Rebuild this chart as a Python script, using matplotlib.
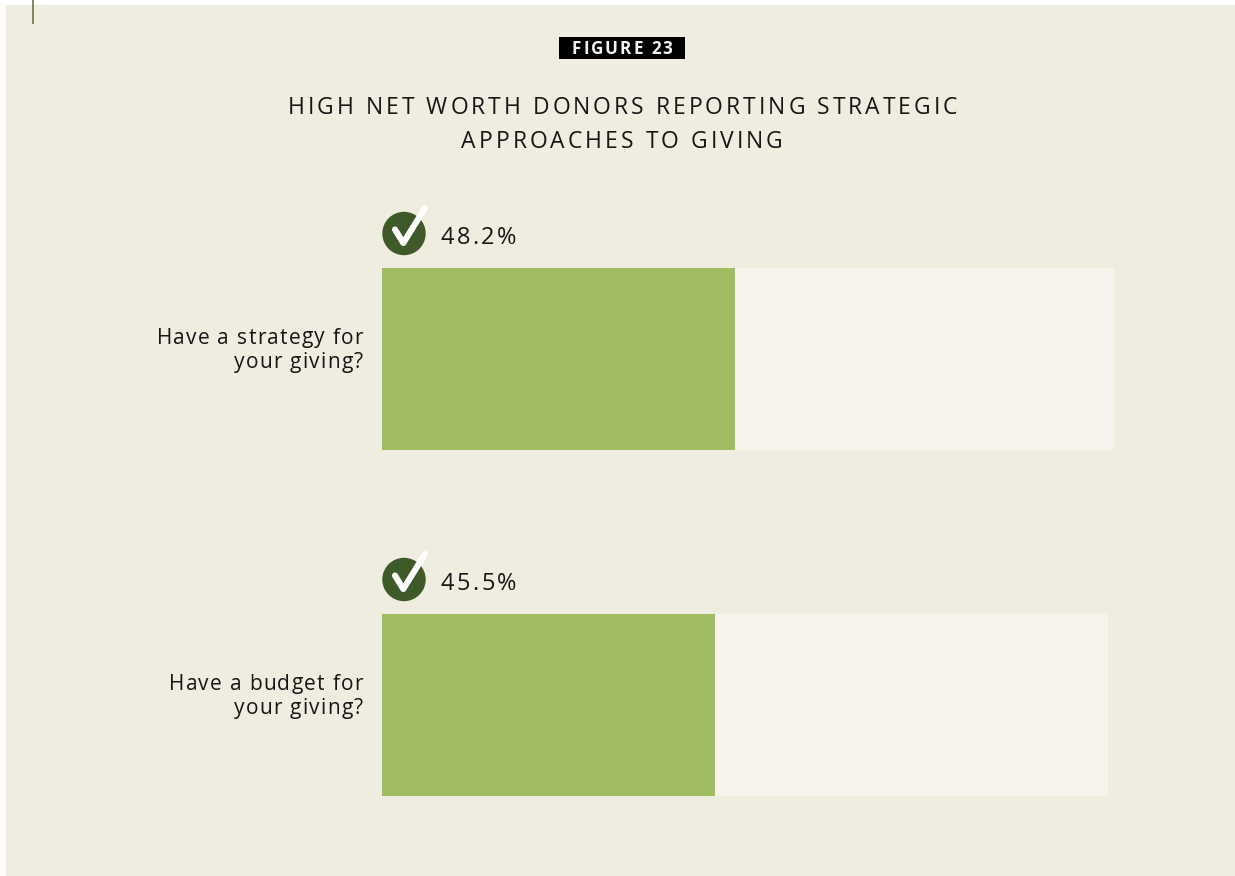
#!/usr/bin/env python3

import matplotlib
matplotlib.use("Agg")
import matplotlib.pyplot as plt
from matplotlib.patches import Circle, Rectangle

# =========================================================
# DATA
# =========================================================
QUESTIONS = [["Have a strategy for", "your giving?"], ["Have a budget for", "your giving?"]]
VALUES = [48.2, 45.5]
VALUE_LABELS = ["48.2%", "45.5%"]
TRACK_ENDS = [100.0, 99.2]
TITLE_LINES = ["HIGH NET WORTH DONORS REPORTING STRATEGIC", "APPROACHES TO GIVING"]
BADGE = "FIGURE 23"

# =========================================================
# CONFIG
# =========================================================
W, H = 1235, 876
DPI = 100
BG = "#efece0"
TRACK = "#f6f3ec"
GREEN = "#a0bc61"
DARK = "#3f5a29"
INK = "#161616"
FONT = "Open Sans"

BAR_TOPS = [268, 614]
BAR_H = 182
BAR_LEFT, BAR_RIGHT = 382, 1114

plt.rcParams["font.family"] = [FONT, "DejaVu Sans"]

fig = plt.figure(figsize=(W / DPI, H / DPI), dpi=DPI, facecolor="white")

# pixel overlay for panel, badge, icons and text
px = fig.add_axes([0, 0, 1, 1], zorder=0)
px.set_xlim(0, W)
px.set_ylim(H, 0)
px.axis("off")


def spaced_text(x, y, s, size, spacing, ha="left", color=INK, weight="normal"):
    # matplotlib has no letter spacing, so place the glyphs one at a time
    rend = fig.canvas.get_renderer()

    def adv(sub):
        t = px.text(0, 0, sub, fontsize=size, fontweight=weight)
        w = t.get_window_extent(rend).width
        t.remove()
        return w

    pair = adv("H" + s + "H") - adv("HH")
    total = pair + spacing * (len(s) - 1)
    x0 = x - total if ha == "right" else x - total / 2 if ha == "center" else x
    for i, ch in enumerate(s):
        if ch == " ":
            continue
        off = adv("H" + s[:i] + "H") - adv("HH") + spacing * i
        px.text(x0 + off, y, ch, fontsize=size, color=color, fontweight=weight,
                ha="left", va="baseline")


# panel
px.add_patch(Rectangle((6, 5), W - 6, H - 5, fc=BG, ec="none"))

# crop mark top left
px.plot([33, 33], [0, 24], color="#5f6b35", lw=1.1, solid_capstyle="butt", zorder=3)

# badge
px.add_patch(Rectangle((559, 37), 126, 22, fc="black", ec="none"))
spaced_text(622, 54.5, BADGE, 12.3, 1.9, ha="center", color="#f2f2f2", weight="bold")

# title
spaced_text(622.5, 114, TITLE_LINES[0], 16.5, 3.0, ha="center")
spaced_text(622, 147.5, TITLE_LINES[1], 16.5, 3.0, ha="center")

# bars, x in percent of the first track
bars = fig.add_axes([BAR_LEFT / W, 0, (BAR_RIGHT - BAR_LEFT) / W, 1], zorder=1)
bars.set_xlim(0, 100)
bars.set_ylim(H, 0)
bars.axis("off")

for top, val, end in zip(BAR_TOPS, VALUES, TRACK_ENDS):
    bars.barh(top + BAR_H / 2, end, height=BAR_H, color=TRACK, lw=0)
    bars.barh(top + BAR_H / 2, val, height=BAR_H, color=GREEN, lw=0)

for top, lines, label in zip(BAR_TOPS, QUESTIONS, VALUE_LABELS):
    # check icon
    cx, cy = 404, top - 34.5
    px.add_patch(Circle((cx, cy), 21.7, fc=DARK, ec="none", zorder=2))
    px.plot([cx - 9, cx - 0.7, cx + 21], [cy - 4, cy + 9.5, cy - 25.5], color="white",
            lw=4.4, solid_capstyle="round", solid_joinstyle="round", zorder=3)
    spaced_text(440.5, top - 24, label, 17, 2.5)
    # question label
    spaced_text(363, top + 75.5, lines[0], 15, 1.27, ha="right")
    spaced_text(363, top + 100, lines[1], 15, 1.27, ha="right")

fig.savefig("out.png", dpi=DPI, facecolor="white")
